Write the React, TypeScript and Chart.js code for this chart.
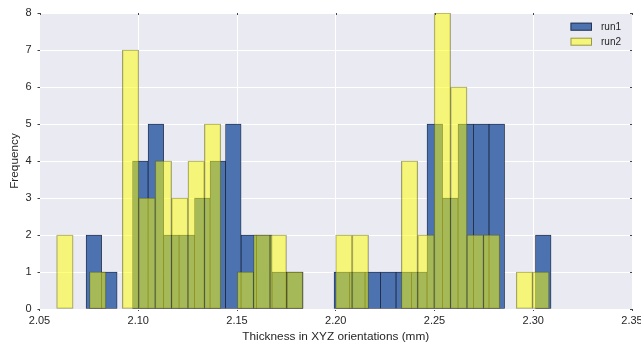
import React, { useEffect, useRef } from "react";
import { Chart, registerables } from "chart.js";

Chart.register(...registerables);

// ---- data ----
const seriesLabels = ["run1", "run2"];
const binCount = 30;
const run1Range = [2.0736, 2.309];
const run2Range = [2.0587, 2.308];
const run1Counts = [2, 1, 0, 4, 5, 2, 2, 3, 4, 5, 2, 2, 1, 1, 0, 0, 1, 1, 1, 1, 1, 1, 5, 3, 5, 5, 5, 0, 0, 2];
const run2Counts = [2, 0, 1, 0, 7, 3, 4, 3, 4, 5, 0, 1, 2, 2, 1, 0, 0, 2, 2, 0, 0, 4, 2, 8, 6, 2, 2, 0, 1, 1];
const xTicks = [2.05, 2.1, 2.15, 2.2, 2.25, 2.3, 2.35];
const yTicks = [0, 1, 2, 3, 4, 5, 6, 7, 8];
const xTitle = "Thickness in XYZ orientations (mm)";
const yTitle = "Frequency";

function binPoints(range: number[], counts: number[]) {
  const w = (range[1] - range[0]) / binCount;
  return counts.map((c, i) => ({ x: range[0] + (i + 0.5) * w, y: c }));
}

const FONT = "'Liberation Sans', Arial, sans-serif";
const TEXT = "#262626";

const bgPlugin = {
  id: "plotBg",
  beforeDraw(chart: any) {
    const { ctx, chartArea } = chart;
    ctx.save();
    ctx.fillStyle = "#EAEAF2";
    ctx.fillRect(chartArea.left, chartArea.top, chartArea.right - chartArea.left, chartArea.bottom - chartArea.top);
    ctx.restore();
  },
};

// small inward tick marks on the top and right edges (matplotlib style)
const mirrorTicksPlugin = {
  id: "mirrorTicks",
  afterDatasetsDraw(chart: any) {
    const { ctx, chartArea, scales } = chart;
    ctx.save();
    ctx.strokeStyle = "#444";
    ctx.lineWidth = 1;
    ctx.beginPath();
    scales.y.ticks.forEach((t: any) => {
      const py = Math.round(scales.y.getPixelForValue(t.value)) + 0.5;
      ctx.moveTo(chartArea.right - 2, py);
      ctx.lineTo(chartArea.right, py);
    });
    scales.x.ticks.forEach((t: any) => {
      const px = Math.round(scales.x.getPixelForValue(t.value)) + 0.5;
      ctx.moveTo(px, chartArea.top);
      ctx.lineTo(px, chartArea.top + 2);
    });
    ctx.stroke();
    ctx.restore();
  },
};

const legendPlugin = {
  id: "histLegend",
  afterDatasetsDraw(chart: any) {
    const { ctx, chartArea } = chart;
    ctx.save();
    chart.data.datasets.forEach((ds: any, i: number) => {
      const x = chartArea.right - 61.5;
      const y = chartArea.top + 9.7 + i * 15;
      ctx.fillStyle = ds.backgroundColor;
      ctx.fillRect(x, y, 21.5, 8);
      ctx.strokeStyle = ds.legendEdge;
      ctx.lineWidth = 1;
      ctx.strokeRect(x + 0.5, y + 0.5, 20.5, 7);
      ctx.fillStyle = TEXT;
      ctx.font = `10px ${FONT}`;
      ctx.textBaseline = "middle";
      ctx.textAlign = "left";
      ctx.fillText(ds.label, chartArea.right - 31, y + 4.2);
    });
    ctx.restore();
  },
};

export default function App() {
  const ref = useRef<HTMLCanvasElement>(null);

  useEffect(() => {
    if (!ref.current) return;
    const chart = new Chart(ref.current, {
      type: "bar",
      data: {
        datasets: [
          {
            label: seriesLabels[0],
            data: binPoints(run1Range, run1Counts),
            backgroundColor: "#4C72B0",
            borderColor: "rgba(15,22,45,0.95)",
            borderWidth: 0.75,
            borderSkipped: false,
            barThickness: "flex",
            barPercentage: 1,
            categoryPercentage: 1,
            stack: "h",
            order: 2,
            legendEdge: "rgba(40,50,70,0.9)",
          } as any,
          {
            label: seriesLabels[1],
            data: binPoints(run2Range, run2Counts),
            backgroundColor: "rgba(255,255,0,0.5)",
            borderColor: "rgba(30,30,10,0.45)",
            borderWidth: 0.7,
            borderSkipped: false,
            barThickness: "flex",
            barPercentage: 1,
            categoryPercentage: 1,
            stack: "h",
            order: 1,
            legendEdge: "rgba(90,90,60,0.6)",
          } as any,
        ],
      },
      options: {
        animation: false,
        responsive: false,
        devicePixelRatio: 1,
        layout: { padding: { top: 13, right: 9, left: 0, bottom: 0 } },
        plugins: { legend: { display: false }, tooltip: { enabled: false } },
        scales: {
          x: {
            type: "linear",
            min: 2.05,
            max: 2.35,
            offset: false,
            grid: { color: "#ffffff", lineWidth: 1, offset: false, drawTicks: true, tickLength: 2, tickColor: "#444" },
            border: { display: false },
            afterBuildTicks: (s: any) => {
              s.ticks = xTicks.map((v) => ({ value: v }));
            },
            ticks: {
              autoSkip: false,
              maxRotation: 0,
              padding: 3,
              color: TEXT,
              font: { family: FONT, size: 11 },
              callback: (v: any) => Number(v).toFixed(2),
            },
            title: {
              display: true,
              text: xTitle,
              color: TEXT,
              font: { family: FONT, size: 11.8 },
              padding: { top: 0, bottom: 3 },
            },
            afterFit: (s: any) => {
              s.height = 38;
              s.paddingLeft = 0;
              s.paddingRight = 0;
            },
          },
          y: {
            type: "linear",
            min: 0,
            max: 8,
            stacked: false,
            grid: { color: "#ffffff", lineWidth: 1, drawTicks: true, tickLength: 2, tickColor: "#444" },
            border: { display: false },
            afterBuildTicks: (s: any) => {
              s.ticks = yTicks.map((v) => ({ value: v }));
            },
            ticks: {
              padding: 6,
              color: TEXT,
              font: { family: FONT, size: 11 },
            },
            title: {
              display: true,
              text: yTitle,
              color: TEXT,
              font: { family: FONT, size: 11.8 },
              padding: { top: 7.5, bottom: 0 },
            },
            afterFit: (s: any) => {
              s.width = 39.5;
            },
          },
        },
      },
      plugins: [bgPlugin, mirrorTicksPlugin, legendPlugin],
    });
    return () => chart.destroy();
  }, []);

  return (
    <div style={{ position: "fixed", left: 0, top: 0, width: 641, height: 347, background: "#fff" }}>
      <canvas ref={ref} width={641} height={347} />
    </div>
  );
}
